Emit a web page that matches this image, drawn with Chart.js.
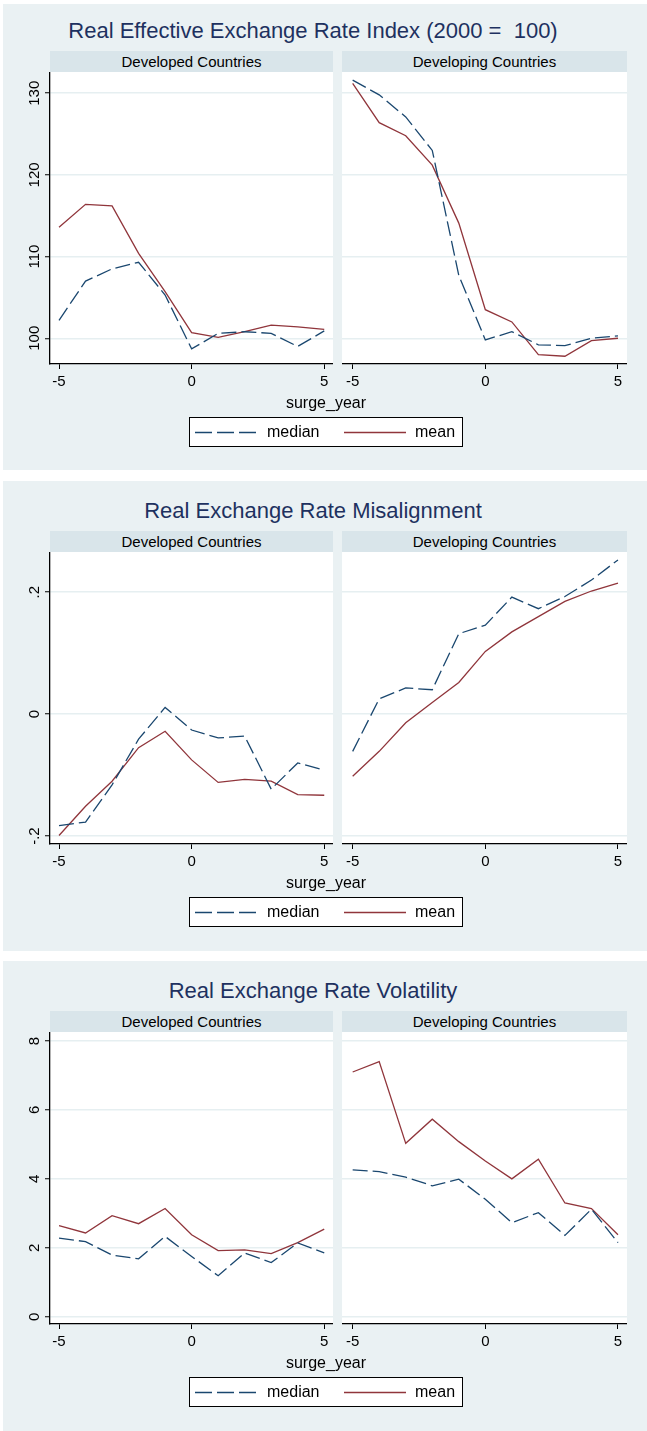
<!DOCTYPE html>
<html>
<head>
<meta charset="utf-8">
<script src="https://cdn.jsdelivr.net/npm/chart.js@4.4.1/dist/chart.umd.min.js"></script>
<style>
  body { margin: 0; background: #fff; font-family: "Liberation Sans", Arial, sans-serif; }
  #page { position: relative; width: 647px; height: 1431px; overflow: hidden; }
  .abs { position: absolute; }
  .panel { left: 3px; width: 644px; background: #EAF1F3; }
  .title { font-size: 22px; color: #1E3160; text-align: center; white-space: nowrap; height: 26px; line-height: 26px; }
  .strip { background: #D9E5EA; font-size: 15px; text-align: center; color: #000; height: 21px; line-height: 21px; }
  .xlab { font-size: 16px; color: #000; text-align: center; height: 20px; line-height: 20px; }
  .legend { background: #fff; border: 1px solid #000; box-sizing: border-box; width: 274px; height: 30px; }
  .legend span { position: absolute; top: 0; font-size: 16px; line-height: 28px; color: #000; }
</style>
</head>
<body>
<div id="page"></div>
<script>
// data
const years = [-5, -4, -3, -2, -1, 0, 1, 2, 3, 4, 5];
const xTicks = [-5, 0, 5];

const titles = [
  'Real Effective Exchange Rate Index (2000 =\u00a0 100)',
  'Real Exchange Rate Misalignment',
  'Real Exchange Rate Volatility'
];
const groups = ['Developed Countries', 'Developing Countries'];
const seriesNames = ['median', 'mean'];

const reerTicks = [100, 110, 120, 130];
const reerDevelopedMedian = [102.2, 107.0, 108.5, 109.3, 105.3, 98.7, 100.6, 100.8, 100.6, 99.0, 100.9];
const reerDevelopedMean = [113.6, 116.4, 116.2, 110.4, 105.7, 100.7, 100.1, 100.8, 101.6, 101.4, 101.1];
const reerDevelopingMedian = [131.6, 129.8, 127.1, 123.0, 107.7, 99.8, 100.8, 99.2, 99.1, 100.0, 100.3];
const reerDevelopingMean = [131.2, 126.4, 124.8, 121.2, 114.1, 103.5, 102.0, 98.0, 97.8, 99.7, 100.0];

const misTicks = [-0.2, 0, 0.2];
const misDevelopedMedian = [-0.183, -0.177, -0.116, -0.041, 0.011, -0.026, -0.039, -0.036, -0.123, -0.080, -0.092];
const misDevelopedMean = [-0.199, -0.151, -0.110, -0.055, -0.028, -0.075, -0.112, -0.107, -0.110, -0.132, -0.133];
const misDevelopingMedian = [-0.061, 0.025, 0.043, 0.040, 0.132, 0.146, 0.192, 0.173, 0.193, 0.220, 0.253];
const misDevelopingMean = [-0.102, -0.061, -0.014, 0.019, 0.052, 0.103, 0.135, 0.160, 0.185, 0.202, 0.215];

const volTicks = [0, 2, 4, 6, 8];
const volDevelopedMedian = [2.28, 2.18, 1.79, 1.68, 2.33, 1.75, 1.19, 1.85, 1.57, 2.14, 1.85];
const volDevelopedMean = [2.64, 2.43, 2.93, 2.70, 3.14, 2.38, 1.92, 1.94, 1.83, 2.15, 2.54];
const volDevelopingMedian = [4.26, 4.21, 4.05, 3.80, 3.99, 3.41, 2.73, 3.02, 2.36, 3.12, 2.15];
const volDevelopingMean = [7.10, 7.40, 5.03, 5.73, 5.08, 4.52, 4.00, 4.57, 3.30, 3.14, 2.38];

const NAVY = '#1A476F';
const MAROON = '#90353B';
const GRID = '#E6EFF1';
const FONT = '"Liberation Sans", Arial, sans-serif';

// Stata style numbers: .2 instead of 0.2
function fmt(v) {
  const s = String(Math.round(v * 1000) / 1000);
  return s.replace(/^(-?)0\./, '$1.');
}

// white plot region + rotated y tick labels
const stataLook = {
  id: 'stataLook',
  beforeDraw(chart) {
    const a = chart.chartArea, c = chart.ctx;
    c.save();
    c.fillStyle = '#fff';
    c.fillRect(a.left, a.top, a.right - a.left, a.bottom - a.top);
    c.restore();
  },
  afterDraw(chart, args, opts) {
    if (!opts.rotated) return;
    const s = chart.scales.y, c = chart.ctx;
    c.save();
    c.font = '15px ' + FONT;
    c.fillStyle = '#000';
    c.textAlign = 'center';
    c.textBaseline = 'middle';
    s.ticks.forEach(t => {
      c.save();
      c.translate(opts.x, s.getPixelForValue(t.value));
      c.rotate(-Math.PI / 2);
      c.fillText(fmt(t.value), 0, 0);
      c.restore();
    });
    c.restore();
  }
};

const page = document.getElementById('page');
function el(cls, css, text) {
  const d = document.createElement('div');
  d.className = 'abs ' + cls;
  Object.assign(d.style, css);
  if (text != null) d.textContent = text;
  page.appendChild(d);
  return d;
}

const panels = [
  { top: 4, bottom: 470, dy: 0, ticks: reerTicks, yMin: 96.85, yMax: 132.6,
    left: [reerDevelopedMedian, reerDevelopedMean], right: [reerDevelopingMedian, reerDevelopingMean] },
  { top: 481, bottom: 951, dy: 480, ticks: misTicks, yMin: -0.213, yMax: 0.266,
    left: [misDevelopedMedian, misDevelopedMean], right: [misDevelopingMedian, misDevelopingMean] },
  { top: 961, bottom: 1431, dy: 960, ticks: volTicks, yMin: -0.21, yMax: 8.26,
    left: [volDevelopedMedian, volDevelopedMean], right: [volDevelopingMedian, volDevelopingMean] }
];

// plot boxes: [left edge of canvas, y-axis width, plot right, x min, x max]
const boxes = [
  { x0: 0, axisW: 50, right: 333, xMin: -5.34, xMax: 5.33 },
  { x0: 342, axisW: 0, right: 627, xMin: -5.40, xMax: 5.34 }
];
const PLOT_TOP = 72, PLOT_BOTTOM = 364, CANVAS_H = 330;

function makeChart(p, box, series, isLeft) {
  const cv = document.createElement('canvas');
  const w = box.right - box.x0;
  cv.width = w; cv.height = CANVAS_H;
  cv.className = 'abs';
  Object.assign(cv.style, { left: box.x0 + 'px', top: (PLOT_TOP + p.dy) + 'px', width: w + 'px', height: CANVAS_H + 'px' });
  page.appendChild(cv);

  new Chart(cv, {
    type: 'line',
    data: {
      datasets: [
        { label: seriesNames[0], data: years.map((x, i) => ({ x, y: series[0][i] })),
          borderColor: NAVY, borderDash: [15, 5], borderWidth: 1.3, pointRadius: 0, tension: 0, fill: false },
        { label: seriesNames[1], data: years.map((x, i) => ({ x, y: series[1][i] })),
          borderColor: MAROON, borderWidth: 1.3, pointRadius: 0, tension: 0, fill: false }
      ]
    },
    options: {
      responsive: false,
      animation: false,
      events: [],
      layout: { padding: 0 },
      plugins: {
        legend: { display: false },
        tooltip: { enabled: false },
        stataLook: { rotated: isLeft, x: 35 }
      },
      scales: {
        x: {
          type: 'linear', bounds: 'data', min: box.xMin, max: box.xMax,
          afterBuildTicks: s => { s.ticks = xTicks.map(v => ({ value: v })); },
          afterFit: s => { s.height = CANVAS_H - (PLOT_BOTTOM - PLOT_TOP); },
          grid: { drawOnChartArea: false, drawTicks: true, tickLength: 5, tickColor: '#000', tickWidth: 1 },
          border: { display: true, color: '#000', width: 1.3 },
          ticks: { color: '#000', font: { size: 15, family: FONT }, padding: 4, maxRotation: 0, minRotation: 0,
                   autoSkip: false, callback: v => fmt(v) }
        },
        y: {
          type: 'linear', bounds: 'data', min: p.yMin, max: p.yMax,
          afterBuildTicks: s => { s.ticks = p.ticks.map(v => ({ value: v })); },
          afterFit: s => { s.width = box.axisW; },
          grid: { color: GRID, lineWidth: 1.5, drawTicks: isLeft, tickLength: 5, tickColor: '#000', tickWidth: 1 },
          border: { display: isLeft, color: '#000', width: 1.3 },
          ticks: { display: false }
        }
      }
    },
    plugins: [stataLook]
  });
}

function legendBox(dy) {
  const lg = el('legend', { left: '189px', top: (417 + dy) + 'px' });
  lg.innerHTML =
    '<svg width="272" height="28" style="position:absolute;left:0;top:0">' +
    '<line x1="5" y1="14.5" x2="68" y2="14.5" stroke="' + NAVY + '" stroke-width="1.5" stroke-dasharray="17,5"/>' +
    '<line x1="154" y1="14.5" x2="216" y2="14.5" stroke="' + MAROON + '" stroke-width="1.5"/>' +
    '</svg>' +
    '<span style="left:77px">' + seriesNames[0] + '</span>' +
    '<span style="left:225px">' + seriesNames[1] + '</span>';
}

panels.forEach((p, k) => {
  el('panel', { top: p.top + 'px', height: (p.bottom - p.top) + 'px' });
  el('title', { left: '0px', width: '626px', top: (18 + p.dy) + 'px' }, titles[k]);
  el('strip', { left: '50px', width: '283px', top: (51 + p.dy) + 'px' }, groups[0]);
  el('strip', { left: '342px', width: '285px', top: (51 + p.dy) + 'px' }, groups[1]);
  makeChart(p, boxes[0], p.left, true);
  makeChart(p, boxes[1], p.right, false);
  el('xlab', { left: '226px', width: '200px', top: (393 + p.dy) + 'px' }, 'surge_year');
  legendBox(p.dy);
});
</script>
</body>
</html>
